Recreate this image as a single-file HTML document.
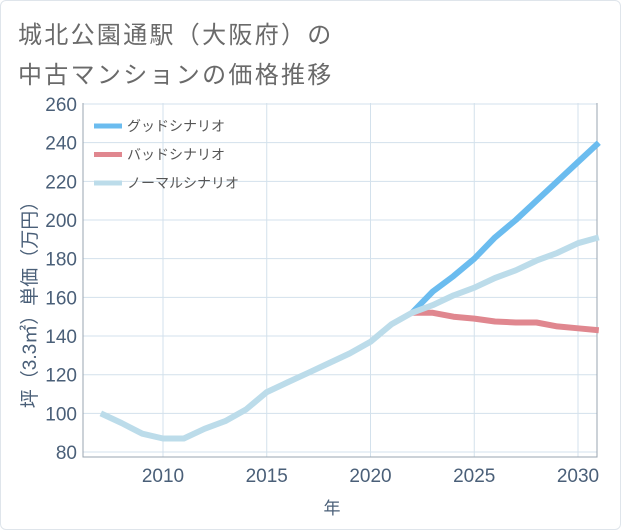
<!DOCTYPE html>
<html><head><meta charset="utf-8">
<style>
html,body{margin:0;padding:0;background:#fff;}
body{width:621px;height:530px;overflow:hidden;font-family:"Liberation Sans","Noto Sans CJK JP",sans-serif;}
#frame{position:absolute;left:0;top:0;width:619px;height:528px;border:1px solid #dfe5eb;border-radius:6px;}
.title{position:absolute;left:18px;font-size:24px;color:#6a6a6a;letter-spacing:2.3px;}
</style></head>
<body>
<div id="frame"></div>
<div class="title" style="top:15px">城北公園通駅（大阪府）の</div>
<div class="title" style="top:55px">中古マンションの価格推移</div>
<svg id="chart" width="621" height="530" style="position:absolute;left:0;top:0"></svg>
<script>
const years=[2007,2008,2009,2010,2011,2012,2013,2014,2015,2016,2017,2018,2019,2020,2021,2022,2023,2024,2025,2026,2027,2028,2029,2030,2031];
const normalValues=[100,95,89.5,87,87,92,96,102,111,116,121,126,131,137,146,152,156,161,165,170,174,179,183,188,191];
const goodYears=[2022,2023,2024,2025,2026,2027,2028,2029,2030,2031];
const goodValues=[152,163,171,180,191,200,210,220,230,240];
const badYears=[2022,2023,2024,2025,2026,2027,2028,2029,2030,2031];
const badValues=[152,152,150,149,147.5,147,147,145,144,143];
const yTicks=[80,100,120,140,160,180,200,220,240,260];
const xTicks=[2010,2015,2020,2025,2030];

const NS="http://www.w3.org/2000/svg";
const svg=document.getElementById('chart');
const L=83,R=597,T=103,B=457;
const xs=y=>163+(y-2010)*20.75;
const ys=v=>104+(260-v)*(38.67/20);
function el(tag,attrs,parent){const e=document.createElementNS(NS,tag);for(const k in attrs)e.setAttribute(k,attrs[k]);(parent||svg).appendChild(e);return e;}

yTicks.forEach(v=>{
  const g=el('line',{x1:L,x2:R,y1:ys(v),y2:ys(v),stroke:'#d3e1ec','stroke-width':1});
  
  
  const t=el('text',{x:L-6,y:ys(v)+7,'text-anchor':'end','font-size':19,fill:'#4a5f78'});
  t.textContent=v;
  
  
});
xTicks.forEach(v=>{
  const g=el('line',{x1:xs(v),x2:xs(v),y1:T,y2:B,stroke:'#d3e1ec','stroke-width':1});
  
  
  const t=el('text',{x:xs(v),y:B+25,'text-anchor':'middle','font-size':19,fill:'#4a5f78'});
  t.textContent=v;
  
  
});
const ax=el('path',{d:`M${L} ${T} L${L} ${B} L${R} ${B} L${R} ${T}`,fill:'none',stroke:'#9aa5b0','stroke-width':1});



function line(xv,yv,color,w,name){
  const d=xv.map((x,i)=>(i?'L':'M')+xs(x).toFixed(1)+' '+ys(yv[i]).toFixed(1)).join(' ');
  const p=el('path',{d:d,fill:'none',stroke:color,'stroke-width':w,'stroke-linejoin':'round'});
  
  
}
line(goodYears,goodValues,'#6bbcef',6,'good-scenario-line');
line(badYears,badValues,'#e0878f',6,'bad-scenario-line');
line(years,normalValues,'#bcdcea',6,'normal-scenario-line');

const leg=[['グッドシナリオ','#6bbcef'],['バッドシナリオ','#e0878f'],['ノーマルシナリオ','#bcdcea']];
leg.forEach((l,i)=>{
  const y=126+i*28.5;
  const s=el('line',{x1:94,x2:122,y1:y,y2:y,stroke:l[1],'stroke-width':5});
  
  
  const t=el('text',{x:127,y:y+5,'font-size':14,fill:'#555'});
  t.textContent=l[0];
  
  
});

const xt=el('text',{x:332,y:514,'text-anchor':'middle','font-size':17,fill:'#4a5f78'});
xt.textContent='年';


const yt=el('text',{x:0,y:0,'text-anchor':'middle','font-size':19,fill:'#4a5f78',transform:'translate(36,300) rotate(-90)'});
yt.textContent='坪（3.3㎡）単価（万円）';


</script>
</body></html>
